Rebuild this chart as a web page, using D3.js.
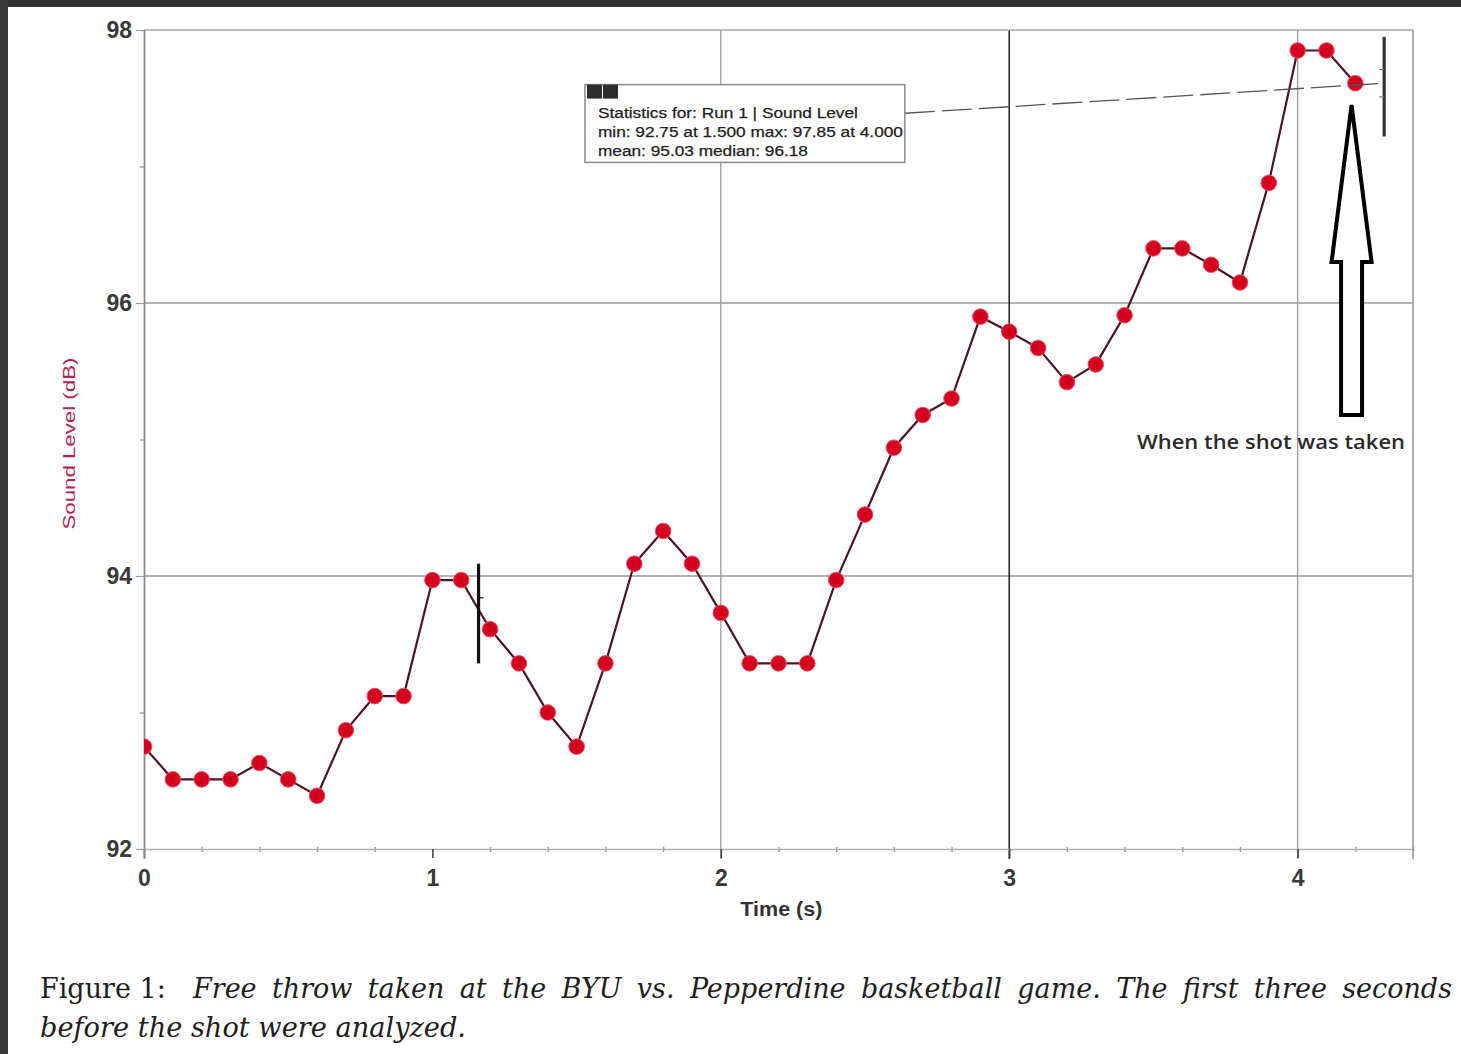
<!DOCTYPE html>
<html>
<head>
<meta charset="utf-8">
<script src="https://cdn.jsdelivr.net/npm/d3@7"></script>
<style>
  html, body { margin: 0; padding: 0; background: #fff; }
  svg { display: block; }
</style>
</head>
<body>
<svg id="chart" width="1461" height="1054"></svg>
<script>
// ---------- data ----------
const times = [0.0,0.1,0.2,0.3,0.4,0.5,0.6,0.7,0.8,0.9,1.0,1.1,1.2,1.3,1.4,1.5,1.6,1.7,1.8,1.9,2.0,2.1,2.2,2.3,2.4,2.5,2.6,2.7,2.8,2.9,3.0,3.1,3.2,3.3,3.4,3.5,3.6,3.7,3.8,3.9,4.0,4.1,4.2];
const soundLevels = [92.75,92.51,92.51,92.51,92.63,92.51,92.39,92.87,93.12,93.12,93.97,93.97,93.61,93.36,93.00,92.75,93.36,94.09,94.33,94.09,93.73,93.36,93.36,93.36,93.97,94.45,94.94,95.18,95.30,95.90,95.79,95.67,95.42,95.55,95.91,96.40,96.40,96.28,96.15,96.88,97.85,97.85,97.61];
const xTickValues = [0,1,2,3,4];
const xTickLabels = ["0","1","2","3","4"];
const yTickValues = [92,94,96,98];
const yTickLabels = ["92","94","96","98"];
const statsLines = [
  "Statistics for: Run 1 | Sound Level",
  "min: 92.75 at 1.500 max: 97.85 at 4.000",
  "mean: 95.03 median: 96.18"
];
const selectionStart = 1.16, selectionEnd = 4.30;
const shotTime = 4.187;
const annotationText = "When the shot was taken";
const xTitle = "Time (s)";
const yTitle = "Sound Level (dB)";
const captionLine1Words = ["Free","throw","taken","at","the","BYU","vs.","Pepperdine","basketball","game.","The","first","three","seconds"];
const captionLine2 = "before the shot were analyzed.";

// ---------- setup ----------
const svg = d3.select("#chart");
const W = 1461, H = 1054;
svg.append("rect").attr("width", W).attr("height", H).attr("fill", "#fff");
// dark frame of the screenshot
svg.append("rect").attr("x", 0).attr("y", 0).attr("width", W).attr("height", 7).attr("fill", "#333");
svg.append("rect").attr("x", 0).attr("y", 0).attr("width", 8).attr("height", H).attr("fill", "#3a3a3a");

const x = d3.scaleLinear().domain([0, 4.4]).range([144, 1413]);
const y = d3.scaleLinear().domain([92, 98]).range([849, 30]);
const [xl, xr] = x.range();
const [yb, yt] = y.range();

const sansFont = "'Liberation Sans', Arial, sans-serif";

// ---------- grid ----------
const grid = svg.append("g");
grid.selectAll("line.hg").data([94, 96]).join("line")
  .attr("x1", xl).attr("x2", xr).attr("y1", d => y(d)).attr("y2", d => y(d))
  .attr("stroke", "#9a9a9a").attr("stroke-width", 1.4);
const vGrid = [{v: 2, c: "#a0a0a0"}, {v: 3, c: "#2a2a2a"}, {v: 4, c: "#a0a0a0"}];
grid.selectAll("line.vg").data(vGrid).join("line")
  .attr("x1", d => x(d.v)).attr("x2", d => x(d.v)).attr("y1", yt).attr("y2", yb + 10)
  .attr("stroke", d => d.c).attr("stroke-width", d => d.v === 3 ? 1.6 : 1.4);
// frame: top and right border
svg.append("line").attr("x1", xl).attr("x2", xr).attr("y1", yt).attr("y2", yt)
  .attr("stroke", "#a8a8a8").attr("stroke-width", 1.6);
svg.append("line").attr("x1", xr).attr("x2", xr).attr("y1", yt).attr("y2", yb + 10)
  .attr("stroke", "#999").attr("stroke-width", 1.6);

// ---------- axes ----------
const minorX = d3.range(0, 4.41, 0.2).filter(v => Math.abs(v - Math.round(v)) > 1e-6);
const xMinor = d3.axisBottom(x).tickValues(minorX).tickSize(5).tickFormat("");
const gxm = svg.append("g").attr("transform", `translate(0,${yb - 2})`).call(xMinor);
gxm.select(".domain").remove();
gxm.selectAll(".tick line").attr("stroke", "#9a9a9a").attr("stroke-width", 1.4);

const xAxis = d3.axisBottom(x).tickValues(xTickValues).tickSize(9)
  .tickFormat((d, i) => xTickLabels[i]);
const gx = svg.append("g").attr("transform", `translate(0,${yb})`).call(xAxis);
gx.attr("font-size", null).attr("font-family", null);
gx.select(".domain").attr("d", `M${xl},0.5H${xr}`).attr("stroke", "#b0b0b0").attr("stroke-width", 1.4);
gx.selectAll(".tick line").attr("stroke", "#444").attr("stroke-width", 1.6);
gx.selectAll(".tick text").attr("y", 29).attr("dy", "0.35em")
  .style("font-family", sansFont).style("font-weight", "bold").style("font-size", "23px").attr("fill", "#3a3a3a");

const yMinor = d3.axisLeft(y).tickValues([93, 95, 97]).tickSize(4).tickFormat("");
const gym = svg.append("g").attr("transform", `translate(${xl},0)`).call(yMinor);
gym.select(".domain").remove();
gym.selectAll(".tick line").attr("stroke", "#888").attr("stroke-width", 1.2);

const yAxis = d3.axisLeft(y).tickValues(yTickValues).tickSize(8)
  .tickFormat((d, i) => yTickLabels[i]);
const gy = svg.append("g").attr("transform", `translate(${xl},0)`).call(yAxis);
gy.attr("font-size", null).attr("font-family", null);
gy.select(".domain").attr("d", `M0.5,${yt}V${yb + 10}`).attr("stroke", "#8a8a8a").attr("stroke-width", 1.8);
gy.selectAll(".tick line").attr("stroke", "#999").attr("stroke-width", 1.2);
gy.selectAll(".tick text").attr("x", -12)
  .style("font-family", sansFont).style("font-weight", "bold").style("font-size", "23px").attr("fill", "#3a3a3a");

// axis titles
svg.append("text").attr("x", x(2.21)).attr("y", 916).attr("text-anchor", "middle")
  .style("font-family", sansFont).style("font-weight", "bold").style("font-size", "20px").attr("fill", "#333")
  .attr("textLength", 82).attr("lengthAdjust", "spacingAndGlyphs")
  .text(xTitle);
svg.append("text").attr("transform", `translate(75,${y(94.34)}) rotate(-90)`)
  .attr("text-anchor", "start").style("font-family", sansFont).style("font-size", "16px")
  .attr("textLength", 172).attr("lengthAdjust", "spacingAndGlyphs")
  .attr("fill", "#b5234d").text(yTitle);

// ---------- data line and markers ----------
const data = times.map((t, i) => ({t, v: soundLevels[i]}));
svg.append("clipPath").attr("id", "plotclip").append("rect")
  .attr("x", xl).attr("y", yt - 10).attr("width", xr - xl).attr("height", yb - yt + 20);
const plot = svg.append("g").attr("clip-path", "url(#plotclip)");
plot.append("path").datum(data)
  .attr("d", d3.line().x(d => x(d.t)).y(d => y(d.v)))
  .attr("fill", "none").attr("stroke", "#4d1424").attr("stroke-width", 2.2);
plot.selectAll("circle").data(data).join("circle")
  .attr("cx", d => x(d.t)).attr("cy", d => y(d.v)).attr("r", 7.8)
  .attr("fill", "#d4001e").attr("stroke", "#e8506a").attr("stroke-width", 1);

// ---------- selection brackets ----------
const br = svg.append("g").attr("stroke", "#111").attr("stroke-width", 3.2);
br.append("line").attr("x1", x(selectionStart)).attr("x2", x(selectionStart))
  .attr("y1", y(94.09)).attr("y2", y(93.36));
br.append("line").attr("x1", x(selectionStart)).attr("x2", x(selectionStart) + 5)
  .attr("y1", y(93.84)).attr("y2", y(93.84)).attr("stroke-width", 1.2);
br.append("line").attr("x1", x(selectionEnd)).attr("x2", x(selectionEnd))
  .attr("y1", y(97.95)).attr("y2", y(97.22)).attr("stroke", "#333");
br.append("line").attr("x1", x(selectionEnd) - 5).attr("x2", x(selectionEnd))
  .attr("y1", y(97.71)).attr("y2", y(97.71)).attr("stroke-width", 1.2).attr("stroke", "#777");
br.append("line").attr("x1", x(selectionEnd) - 5).attr("x2", x(selectionEnd))
  .attr("y1", y(97.51)).attr("y2", y(97.51)).attr("stroke-width", 1.2).attr("stroke", "#777");

// connector from stats box to bracket
svg.append("line").attr("x1", x(2.638)).attr("y1", y(97.39)).attr("x2", x(selectionEnd)).attr("y2", y(97.61))
  .attr("stroke", "#555").attr("stroke-width", 1.3).attr("stroke-dasharray", "30,7");

// ---------- statistics box ----------
const bx0 = x(1.529), bx1 = x(2.638), by0 = y(97.60), by1 = y(97.03);
const sb = svg.append("g");
sb.append("rect").attr("x", bx0).attr("y", by0).attr("width", bx1 - bx0).attr("height", by1 - by0)
  .attr("fill", "#fff").attr("stroke", "#8a8a8a").attr("stroke-width", 1.5);
sb.append("rect").attr("x", bx0 + 2).attr("y", by0).attr("width", 15).attr("height", 14).attr("fill", "#2d2d2d");
sb.append("rect").attr("x", bx0 + 18).attr("y", by0).attr("width", 15).attr("height", 14).attr("fill", "#2d2d2d");
const statW = [260, 305, 210];
sb.selectAll("text").data(statsLines).join("text")
  .attr("x", bx0 + 13).attr("y", (d, i) => by0 + 33 + i * 19)
  .style("font-family", sansFont).style("font-size", "14px").attr("fill", "#222")
  .attr("stroke", "#222").attr("stroke-width", 0.25)
  .attr("textLength", (d, i) => statW[i]).attr("lengthAdjust", "spacingAndGlyphs")
  .text(d => d);

// ---------- hollow arrow ----------
const ax = x(shotTime);
const headHalf = 20, shaftHalf = 10.5;
const tipY = y(97.45), headY = y(96.30), baseY = y(95.18);
const arrowPath = d3.path();
arrowPath.moveTo(ax, tipY);
arrowPath.lineTo(ax + headHalf, headY);
arrowPath.lineTo(ax + shaftHalf, headY);
arrowPath.lineTo(ax + shaftHalf, baseY);
arrowPath.lineTo(ax - shaftHalf, baseY);
arrowPath.lineTo(ax - shaftHalf, headY);
arrowPath.lineTo(ax - headHalf, headY);
arrowPath.closePath();
svg.append("path").attr("d", arrowPath.toString())
  .attr("fill", "#fff").attr("stroke", "#000").attr("stroke-width", 4).attr("stroke-linejoin", "miter");
svg.append("text").attr("x", x(3.443)).attr("y", y(94.95) + 3)
  .style("font-family", "'Open Sans', sans-serif").style("font-weight", "600").style("font-size", "19px")
  .attr("textLength", 268).attr("lengthAdjust", "spacingAndGlyphs")
  .attr("fill", "#2b2b2b").text(annotationText);

// ---------- caption ----------
const capFont = "'DejaVu Serif', 'Liberation Serif', serif";
const capSize = 27;
const cap = svg.append("g").attr("fill", "#1e1e1e").style("font-family", capFont).style("font-size", capSize + "px");
const lead = cap.append("text").attr("x", 40).attr("y", 998).text("Figure 1:");
const words = cap.selectAll("text.w").data(captionLine1Words).join("text")
  .attr("class", "w").style("font-style", "italic").attr("y", 998).text(d => d);
const widths = [];
words.each(function() { widths.push(this.getComputedTextLength()); });
const startX = 193, endX = 1452;
const gap = (endX - startX - d3.sum(widths)) / (widths.length - 1);
let cx = startX;
words.each(function(d, i) { d3.select(this).attr("x", cx); cx += widths[i] + gap; });
cap.append("text").attr("x", 40).attr("y", 1037).style("font-style", "italic")
  .attr("textLength", 426).attr("lengthAdjust", "spacingAndGlyphs").text(captionLine2);
</script>
</body>
</html>
